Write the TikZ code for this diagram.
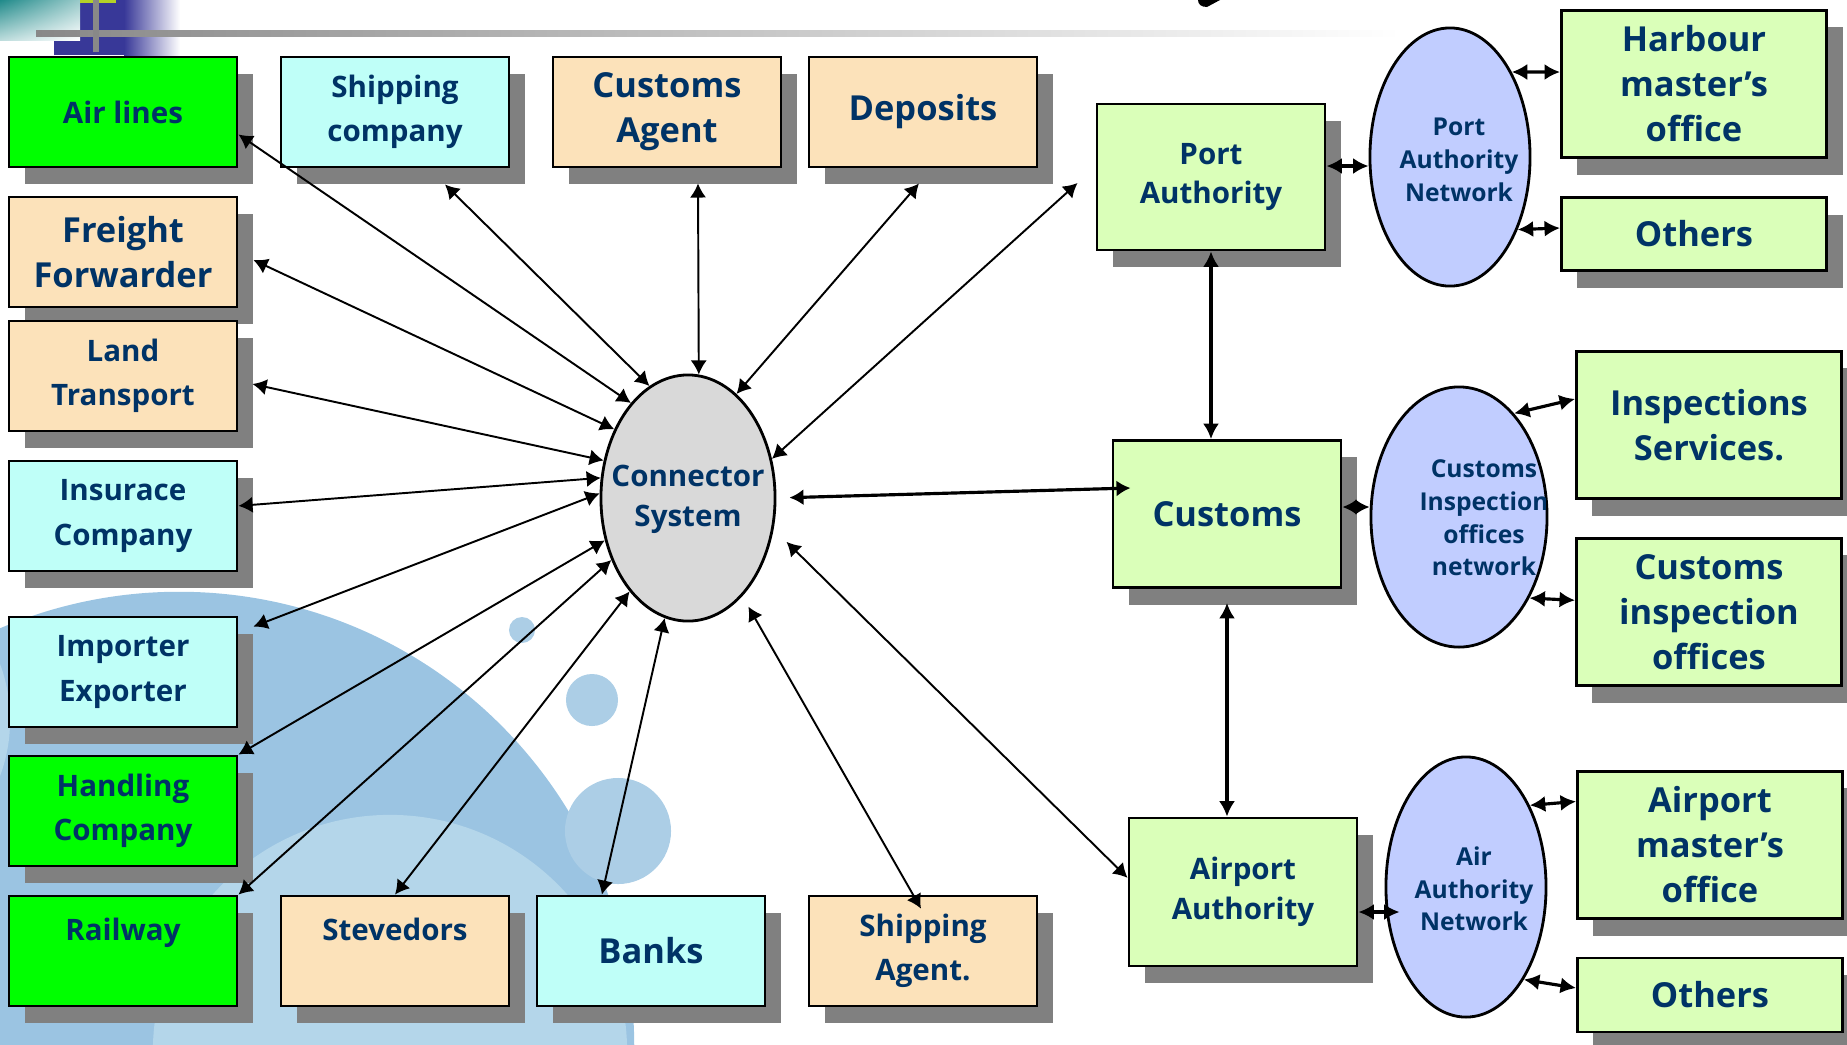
\documentclass[tikz,border=0pt]{standalone}
\usepackage{fontspec}
\setmainfont{Open Sans}
\usetikzlibrary{shapes.geometric,shadows,shadings,calc,arrows.meta}

\definecolor{navytext}{RGB}{0,51,102}
\definecolor{limefill}{RGB}{0,255,0}
\definecolor{peachfill}{RGB}{252,226,186}
\definecolor{aquafill}{RGB}{191,255,248}
\definecolor{palegreen}{RGB}{218,255,185}
\definecolor{lavender}{RGB}{193,205,255}
\definecolor{hubgray}{RGB}{217,217,217}
\definecolor{boxshadow}{RGB}{128,128,128}
\definecolor{bubbledark}{RGB}{155,196,226}
\definecolor{bubblelight}{RGB}{180,214,234}
\definecolor{bubble}{RGB}{172,206,230}
\definecolor{headteal}{RGB}{32,138,138}
\definecolor{headblue}{RGB}{56,56,152}
\definecolor{headgray}{RGB}{136,136,136}
\definecolor{headlime}{RGB}{180,210,40}

\newcommand{\boxbig}{\fontsize{9.8}{12.8}\selectfont}
\newcommand{\boxmid}{\fontsize{8.4}{12.6}\selectfont}
\newcommand{\boxmidtight}{\fontsize{8.4}{11.3}\selectfont}
\newcommand{\boxsmall}{\fontsize{7}{9.3}\selectfont}

\tikzset{
  box/.style={draw=black, line width=0.8pt, text=navytext, font=\bfseries\boxmid, align=center, inner sep=0pt,
    minimum width=2.28cm, minimum height=1.10cm,
    general shadow={fill=boxshadow, shadow xshift=0.16cm, shadow yshift=-0.17cm}},
  wide/.style={box, fill=palegreen, font=\bfseries\boxbig, minimum width=2.65cm, minimum height=1.47cm},
  hub/.style={ellipse, draw=black, line width=0.8pt, fill=hubgray, inner sep=0pt, minimum width=1.74cm, minimum height=2.46cm},
  net/.style={ellipse, draw=black, line width=0.8pt, fill=lavender, inner sep=0pt},
  hubtext/.style={text=navytext, font=\bfseries\boxmidtight, align=center, inner sep=0pt},
  nettext/.style={text=navytext, font=\bfseries\boxsmall, align=center, inner sep=0pt},
  link/.style={>={Latex[length=4pt,width=4.6pt]}, <->, line width=0.55pt},
  bilink/.style={>={Latex[length=4.4pt,width=4.6pt]}, <->, line width=0.9pt}
}

\begin{document}
\begin{tikzpicture}[x=0.01cm,y=-0.01cm]
  \useasboundingbox (0,0) rectangle (1847,1044);
  % background bubbles
  \fill[bubbledark] (179,1047) circle[radius=4.55cm];
  \fill[bubblelight] (-150,720) circle[radius=1.6cm];
  \fill[bubblelight] (390,1052) circle[radius=2.37cm];
  \fill[bubble] (522,630) circle[radius=0.13cm];
  \fill[bubble] (592,700) circle[radius=0.26cm];
  \fill[bubble] (618,831) circle[radius=0.53cm];
  % header strip
  \fill[headblue] (54,0) rectangle (124,55);
  \shade[left color=headblue, right color=white] (124,0) rectangle (180,55);
  \shade[upper left=headteal, upper right=headteal!45, lower left=headteal!30, lower right=white] (0,0) rectangle (80,40);
  \fill[headlime] (80,0) rectangle (116,3);
  \shade[left color=headgray, right color=white] (36,30) rectangle (1400,36);
  \fill[headgray] (93,0) rectangle (99,52);
  \fill[black] (1198,0) -- (1220,0) -- (1207,7) .. controls (1201,7) and (1198,4) .. cycle;

  % left column
  \node[box, fill=limefill] (air) at (123,112) {Air lines};
  \node[box, fill=peachfill, font=\bfseries\boxbig] (freight) at (123,252) {Freight\\Forwarder};
  \node[box, fill=peachfill] (land) at (123,376) {Land\\Transport};
  \node[box, fill=aquafill] (ins) at (123,516) {Insurace\\Company};
  \node[box, fill=aquafill] (imp) at (123,672) {Importer\\Exporter};
  \node[box, fill=limefill] (hand) at (123,811) {Handling\\Company};
  \node[box, fill=limefill] (rail) at (123,951) {Railway\\~};
  % top row
  \node[box, fill=aquafill] (shipco) at (395,112) {Shipping\\company};
  \node[box, fill=peachfill, font=\bfseries\boxbig] (cagent) at (667,112) {Customs\\Agent};
  \node[box, fill=peachfill, font=\bfseries\boxbig] (depo) at (923,112) {Deposits};
  % bottom row
  \node[box, fill=peachfill] (stev) at (395,951) {Stevedors\\~};
  \node[box, fill=aquafill, font=\bfseries\boxbig] (banks) at (651,951) {Banks};
  \node[box, fill=peachfill] (shipag) at (923,951) {Shipping\\Agent.};

  % connector system
  \node[hub] (conn) at (688,498) {};
  \node[hubtext] (conntext) at (688,499) {Connector\\System};

  % authorities
  \node[box, fill=palegreen, minimum height=1.46cm, font=\bfseries\boxmidtight] (port) at (1211,177) {Port\\Authority};
  \node[box, fill=palegreen, minimum height=1.47cm, font=\bfseries\boxbig] (customs) at (1227,514) {Customs};
  \node[box, fill=palegreen, minimum height=1.48cm, font=\bfseries\boxmidtight] (airport) at (1243,892) {Airport\\Authority};

  % networks
  \node[net, minimum width=1.60cm, minimum height=2.58cm] (pan) at (1450,157) {};
  \node[nettext] (pantext) at (1459,160) {Port\\Authority\\Network};
  \node[net, minimum width=1.76cm, minimum height=2.60cm] (cin) at (1459,517) {};
  \begin{scope}
    \clip (cin.center) ellipse [x radius=0.87cm, y radius=1.29cm];
    \node[nettext] (cintext) at (1484,518) {Customs\\Inspection\\offices\\network};
  \end{scope}
  \node[net, minimum width=1.60cm, minimum height=2.60cm] (aan) at (1466,887) {};
  \node[nettext] (aantext) at (1474,889) {Air\\Authority\\Network};

  % offices
  \node[wide] (harb) at (1694,84) {Harbour\\master's\\office};
  \node[wide, minimum height=0.73cm] (otop) at (1694,234) {Others};
  \node[wide] (insp) at (1709,425) {Inspections\\Services.};
  \node[wide] (cio) at (1709,612) {Customs\\inspection\\offices};
  \node[wide] (amo) at (1710,845) {Airport\\master's\\office};
  \node[wide, minimum height=0.74cm] (obot) at (1710,995) {Others};

  % links to the connector system
  \draw[link] (air.-11) -- (conn.121);
  \draw[link] ($(freight.east)+(15,8)$) -- (conn.137);
  \draw[link] ($(land.east)+(14,8)$) -- (conn.156);
  \draw[link] (ins.5) -- (conn.167);
  \draw[link] ($(imp.north east)+(15,11)$) -- (conn.177);
  \draw[link] (hand.north east) -- (conn.207);
  \draw[link] (rail.north east) -- (conn.219);
  \draw[link] (stev.north) -- (conn.238);
  \draw[link] (banks.131) -- (conn.259);
  \draw[link, shorten >=0.12cm] ($(shipag.north)+(-2,14)$) -- (conn.299);
  \draw[link] ($(shipco.south)+(50,16)$) -- (conn.109);
  \draw[link] ($(cagent.south)+(31,15)$) -- (conn.85);
  \draw[link] ($(depo.south)+(-4,15)$) -- (conn.65);
  \draw[link] ($(port.west)+(-18,6)$) -- (conn.25);
  \draw[link, shorten >=0.18cm] (airport.173) -- (conn.-20);
  \draw[link, line width=0.9pt, shorten <=0.13cm] (conn.east) -- ($(customs.west)+(19,-26)$);

  % links on the right
  \draw[bilink] (port.south) -- (port.south |- customs.north);
  \draw[bilink] ($(customs.south)+(0,14)$) -- (customs.south |- airport.north);
  \draw[bilink, >={Latex[length=4pt,width=4.4pt]}] ($(customs.east)+(0,-7)$) -- ($(cin.west)+(0,-10)$);
  \draw[bilink] ($(port.east)+(0,-11)$) -- ($(pan.west)+(0,9)$);
  \draw[bilink] (pan.54) -- ($(harb.west)+(0,-12)$);
  \draw[bilink] (pan.-47) -- ($(otop.west)+(0,-6)$);
  \draw[bilink] (cin.62) -- (insp.169);
  \draw[bilink] (cin.-49) -- (cio.175);
  \draw[bilink] ($(airport.east)+(0,20)$) -- ($(aan.west)+(15,25)$);
  \draw[bilink] (aan.52) -- (amo.162);
  \draw[bilink] (aan.-58) -- (obot.177);
\end{tikzpicture}
\end{document}
